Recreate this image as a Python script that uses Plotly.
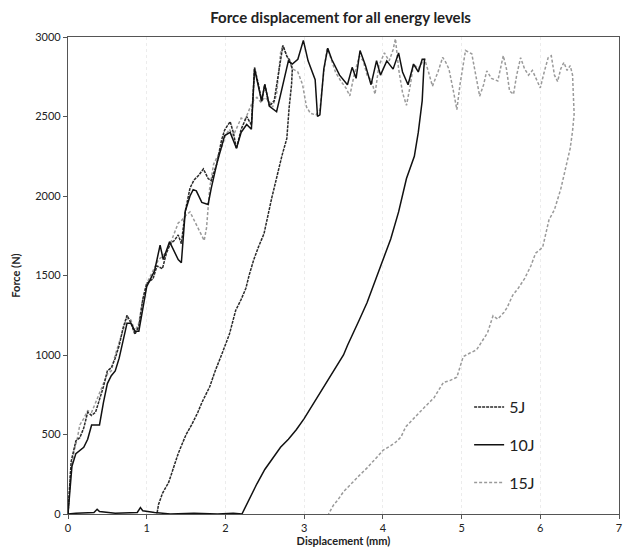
import plotly.graph_objects as go

# ---------------- data ----------------
x5 = [0, 0.04, 0.1, 0.15, 0.2, 0.25, 0.3, 0.35, 0.4, 0.45, 0.5, 0.55, 0.6, 0.65, 0.7, 0.75, 0.8, 0.85, 0.9, 0.95,
      1.0, 1.08, 1.13, 1.2, 1.25, 1.3, 1.35, 1.4, 1.44, 1.49, 1.55, 1.6, 1.66, 1.72, 1.78, 1.82, 1.89, 1.95, 1.99,
      2.06, 2.1, 2.14, 2.2, 2.27, 2.33, 2.37, 2.42, 2.46, 2.5, 2.56, 2.62, 2.68, 2.73, 2.78, 2.82, 2.85,
      2.84, 2.81, 2.78, 2.72, 2.65, 2.59, 2.55, 2.49, 2.42, 2.36, 2.3, 2.26, 2.2, 2.13, 2.05, 2.0, 1.95, 1.87,
      1.8, 1.7, 1.65, 1.57, 1.5, 1.4, 1.35, 1.28, 1.2, 1.15, 1.13]
f5 = [0, 330, 460, 480, 540, 640, 620, 640, 720, 800, 900, 920, 980, 1060, 1170, 1250, 1200, 1130, 1180, 1350,
      1450, 1479, 1560, 1543, 1640, 1700, 1720, 1755, 1700, 1904, 2050, 2100, 2130, 2170, 2110, 2096, 2202, 2350, 2415,
      2468, 2400, 2298, 2420, 2500, 2447, 2809, 2700, 2596, 2702, 2564, 2600, 2800, 2947, 2880, 2851, 2800,
      2700, 2560, 2362, 2257, 2120, 1991, 1900, 1763, 1680, 1600, 1500, 1420, 1350, 1280, 1130, 1060, 1000, 900,
      800, 700, 640, 560, 500, 380, 310, 200, 130, 60, 0]

x10 = [0, 0.05, 0.1, 0.15, 0.2, 0.25, 0.3, 0.35, 0.4, 0.45, 0.5, 0.55, 0.6, 0.65, 0.7, 0.75, 0.8, 0.85, 0.9, 0.95,
       1.0, 1.05, 1.1, 1.17, 1.21, 1.29, 1.35, 1.4, 1.44, 1.49, 1.55, 1.59, 1.63, 1.7, 1.78, 1.82, 1.89, 1.95, 1.99,
       2.06, 2.14, 2.2, 2.27, 2.33, 2.37, 2.46, 2.5, 2.56, 2.65, 2.73, 2.8, 2.85, 2.92, 2.99, 3.05, 3.14, 3.17, 3.2,
       3.25, 3.3, 3.35, 3.45, 3.55, 3.61, 3.66, 3.71, 3.78, 3.85, 3.92, 3.97, 4.05, 4.13, 4.2, 4.25, 4.32, 4.39,
       4.45, 4.5, 4.53,
       4.52, 4.5, 4.45, 4.4, 4.3, 4.2, 4.1, 4.0, 3.9, 3.8, 3.7, 3.6, 3.55, 3.5, 3.4, 3.3, 3.2, 3.1, 3.0, 2.9, 2.8,
       2.7, 2.6, 2.5, 2.4, 2.3, 2.21,
       2.1, 1.9, 1.6, 1.3, 1.1, 0.95, 0.92, 0.88, 0.6, 0.4, 0.37, 0.33, 0.1, 0.0]
f10 = [0, 300, 380, 400, 420, 470, 560, 560, 560, 700, 820, 870, 900, 980, 1100, 1200, 1200, 1150, 1150, 1300,
       1430, 1480, 1530, 1691, 1600, 1713, 1650, 1600, 1580, 1904, 2000, 2040, 2032, 1960, 1947, 2050, 2202, 2300, 2380,
       2400, 2300, 2400, 2450, 2420, 2800, 2596, 2702, 2564, 2530, 2700, 2850, 2830, 2860, 2979, 2850, 2731, 2500, 2510,
       2800, 2930, 2860, 2760, 2700, 2809, 2740, 2915, 2820, 2700, 2851, 2760, 2850, 2798, 2900, 2780, 2700, 2830,
       2780, 2860, 2860,
       2800, 2600, 2400, 2250, 2110, 1900, 1730, 1600, 1470, 1330, 1220, 1120, 1060, 1000, 920, 840, 760, 680, 600,
       530, 470, 420, 350, 280, 190, 90, 0,
       5, 0, 5, 0, 10, 20, 40, 10, 5, 15, 30, 10, 5, 0]

x15 = [0, 0.03, 0.08, 0.12, 0.15, 0.2, 0.25, 0.3, 0.35, 0.4, 0.45, 0.5, 0.55, 0.6, 0.65, 0.7, 0.75, 0.8, 0.85, 0.9,
       0.95, 1.0, 1.05, 1.1, 1.15, 1.2, 1.25, 1.3, 1.35, 1.4, 1.45, 1.5, 1.55, 1.6, 1.65, 1.7, 1.73, 1.76, 1.8, 1.85,
       1.9, 1.95, 2.0, 2.05, 2.1, 2.15, 2.2, 2.25, 2.3, 2.35, 2.4, 2.45, 2.5, 2.55, 2.6, 2.65, 2.7, 2.73, 2.78, 2.85,
       2.92, 2.98, 3.03, 3.08, 3.15, 3.2, 3.25, 3.29, 3.33, 3.4, 3.47, 3.53, 3.58, 3.63, 3.7, 3.75, 3.8, 3.86, 3.9,
       3.95, 4.02, 4.08, 4.13, 4.16, 4.2, 4.25, 4.3, 4.35, 4.39, 4.45, 4.5, 4.53, 4.58, 4.63, 4.7, 4.76, 4.8, 4.84,
       4.9, 4.94, 4.98, 5.05, 5.13, 5.18, 5.23, 5.28, 5.32, 5.38, 5.46, 5.53, 5.57, 5.61, 5.66, 5.7, 5.75, 5.8, 5.85,
       5.9, 5.95, 6.0, 6.05, 6.1, 6.14, 6.18, 6.22, 6.26, 6.3, 6.34, 6.38, 6.41,
       6.43, 6.41, 6.38, 6.33, 6.26, 6.18, 6.11, 6.03, 5.94, 5.88, 5.8, 5.72, 5.65, 5.58, 5.54, 5.46, 5.4, 5.33, 5.27,
       5.19, 5.1, 5.02, 4.94, 4.85, 4.77, 4.65, 4.52, 4.44, 4.35, 4.29, 4.23, 4.16, 4.1, 4.0, 3.94, 3.88, 3.8, 3.71,
       3.63, 3.55, 3.5, 3.43, 3.37, 3.31]
f15 = [0, 250, 400, 480, 560, 600, 650, 640, 700, 760, 820, 880, 900, 1000, 1080, 1150, 1230, 1220, 1150, 1200,
       1350, 1450, 1500, 1550, 1600, 1620, 1650, 1700, 1760, 1830, 1850, 1880, 1900, 1850, 1800, 1740, 1720, 1800, 2050,
       2200, 2250, 2300, 2380, 2420, 2380, 2440, 2490, 2480, 2540, 2600, 2620, 2590, 2620, 2600, 2560, 2640, 2900, 2947,
       2880, 2800, 2780, 2700, 2560, 2520, 2510, 2540, 2780, 2926, 2880, 2777, 2720, 2680, 2630, 2750, 2880, 2850, 2760,
       2723, 2640, 2820, 2900, 2850, 2920, 2989, 2800, 2650, 2570, 2700, 2830, 2800, 2840, 2862, 2780, 2691, 2780, 2872,
       2840, 2798, 2650, 2543, 2700, 2915, 2894, 2760, 2628, 2700, 2787, 2740, 2723, 2883, 2800, 2660, 2640, 2760,
       2870, 2800, 2760, 2790, 2740, 2680, 2780, 2870, 2882, 2760, 2720, 2800, 2840, 2790, 2820, 2760,
       2516, 2409, 2300, 2194, 2043, 1914, 1849, 1677, 1640, 1560, 1480, 1420, 1376, 1300, 1269, 1226, 1247, 1140, 1097,
       1032, 1011, 989, 860, 839, 828, 731, 667, 624, 580, 548, 484, 450, 430, 400, 366, 333, 290, 247,
       204, 165, 140, 90, 54, 0]

names = ["5J", "10J", "15J"]
x_ticks = [0, 1, 2, 3, 4, 5, 6, 7]
y_ticks = [0, 500, 1000, 1500, 2000, 2500, 3000]

FONT = "Lato, 'Open Sans', sans-serif"

fig = go.Figure()
fig.add_trace(go.Scatter(x=x15, y=f15, mode="lines", name=names[2], legendgroup="c", legendrank=3,
                         line=dict(color="#9a9a9a", width=1.5, dash="3px,2px")))
fig.add_trace(go.Scatter(x=x5, y=f5, mode="lines", name=names[0], legendgroup="a", legendrank=1,
                         line=dict(color="#2a2a2a", width=1.5, dash="3px,1px")))
fig.add_trace(go.Scatter(x=x10, y=f10, mode="lines", name=names[1], legendgroup="b", legendrank=2,
                         line=dict(color="#111111", width=1.5)))

fig.update_layout(
    width=625, height=547,
    margin=dict(l=68, r=3, t=37, b=28),
    paper_bgcolor="white", plot_bgcolor="white",
    title=dict(text="<b>Force displacement for all energy levels</b>", x=0.545, xanchor="center",
               y=0.968, yanchor="middle", font=dict(family=FONT, size=15, color="#222")),
    font=dict(family=FONT, size=11, color="#222"),
    legend=dict(x=0.728, y=0.26, xanchor="left", yanchor="top", bgcolor="rgba(0,0,0,0)",
                font=dict(family=FONT, size=16, color="#222"), tracegroupgap=14,
                traceorder="grouped", itemwidth=30),
    showlegend=True,
)
fig.update_xaxes(range=[0, 7], tickvals=x_ticks, ticktext=[str(v) for v in x_ticks],
                 showline=True, linecolor="#555", linewidth=1.2, mirror=True,
                 ticks="outside", ticklen=4, tickcolor="#555",
                 showgrid=True, gridcolor="#ececec", griddash="dot", zeroline=False,
                 title=dict(text="<b>Displacement (mm)</b>", font=dict(family=FONT, size=11), standoff=2),
                 tickfont=dict(family=FONT, size=11))
fig.update_yaxes(range=[0, 3000], tickvals=y_ticks, ticktext=[str(v) for v in y_ticks],
                 showline=True, linecolor="#555", linewidth=1.2, mirror=True,
                 ticks="outside", ticklen=4, tickcolor="#555",
                 showgrid=False, zeroline=False,
                 title=dict(text="<b>Force (N)</b>", font=dict(family=FONT, size=11), standoff=12),
                 tickfont=dict(family=FONT, size=11))

fig.write_html("out.html")
